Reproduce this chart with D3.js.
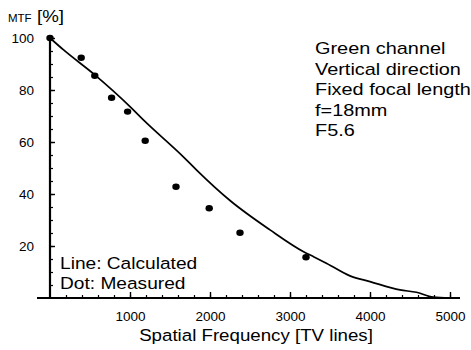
<!DOCTYPE html>
<html>
<head>
<meta charset="utf-8">
<script src="https://cdn.jsdelivr.net/npm/d3@7"></script>
<style>
  body { margin: 0; background: #fff; }
  svg { display: block; font-family: "Liberation Sans", Arial, sans-serif; }
  .axis path, .axis line { stroke: #000; }
  .axis text { fill: #000; }
</style>
</head>
<body>
<svg class="view" width="471" height="350"></svg>
<script>
// calculated MTF curve
var calcFreq = [0, 170, 560, 1000, 1167, 1667, 1833, 2250, 2750, 3170, 3300, 3460, 3750, 4000, 4375, 4580, 4790, 5000];
var calcMtf  = [100, 95.4, 85.8, 73.6, 68.5, 54.3, 49.2, 37.5, 26.2, 17.8, 15.8, 13.3, 8.5, 6.3, 3.1, 2.2, 0.3, 0];

// measured dots
var measFreq = [0, 390, 560, 770, 970, 1190, 1575, 1990, 2375, 3200];
var measMtf  = [100, 92.4, 85.5, 77, 71.7, 60.5, 42.8, 34.5, 25.1, 15.7];

var xMajor = [1000, 2000, 3000, 4000, 5000];
var yMajor = [20, 40, 60, 80, 100];

var notes = ['Green channel', 'Vertical direction', 'Fixed focal length', 'f=18mm', 'F5.6'];
var legendLines = ['Line: Calculated', 'Dot: Measured'];

var svg = d3.select('.view');

var x = d3.scaleLinear().domain([0, 5000]).range([50, 450]);
var y = d3.scaleLinear().domain([0, 100]).range([298, 38]);

// minor ticks
svg.append('g')
    .attr('class', 'axis')
    .attr('transform', 'translate(0,' + y(0) + ')')
    .call(d3.axisBottom(x).tickValues(d3.range(200, 5001, 200)).tickSizeInner(-3).tickSizeOuter(0).tickFormat(''))
    .call(function (g) { g.select('.domain').remove(); })
    .selectAll('line').attr('stroke-width', 1.2);

svg.append('g')
    .attr('class', 'axis')
    .attr('transform', 'translate(' + x(0) + ',0)')
    .call(d3.axisLeft(y).tickValues(d3.range(5, 101, 5)).tickSizeInner(-3).tickSizeOuter(0).tickFormat(''))
    .call(function (g) { g.select('.domain').remove(); })
    .selectAll('line').attr('stroke-width', 1.2);

// major ticks + labels
var xAxis = svg.append('g')
    .attr('class', 'axis')
    .attr('transform', 'translate(0,' + y(0) + ')')
    .call(d3.axisBottom(x).tickValues(xMajor).tickSizeInner(-6).tickSizeOuter(0).tickPadding(13).tickFormat(d3.format('d')))
    .call(function (g) { g.select('.domain').remove(); });
xAxis.selectAll('line').attr('stroke-width', 1.4);
xAxis.selectAll('text').attr('font-size', 13.5).attr('font-family', null);

var yAxis = svg.append('g')
    .attr('class', 'axis')
    .attr('transform', 'translate(' + x(0) + ',0)')
    .call(d3.axisLeft(y).tickValues(yMajor).tickSizeInner(-5).tickSizeOuter(0).tickPadding(16))
    .call(function (g) { g.select('.domain').remove(); });
yAxis.selectAll('line').attr('stroke-width', 1.4);
yAxis.selectAll('text').attr('font-size', 13.5).attr('font-family', null);

// axis lines
svg.append('line')
    .attr('x1', x(0) - 13).attr('x2', x(5000) + 10)
    .attr('y1', y(0)).attr('y2', y(0))
    .attr('stroke', '#000').attr('stroke-width', 2.2);
svg.append('line')
    .attr('x1', x(0)).attr('x2', x(0))
    .attr('y1', y(100) - 1).attr('y2', y(0))
    .attr('stroke', '#000').attr('stroke-width', 2.2);

// calculated line
var calc = calcFreq.map(function (f, i) { return [f, calcMtf[i]]; });
var line = d3.line()
    .x(function (d) { return x(d[0]); })
    .y(function (d) { return y(d[1]); })
    .curve(d3.curveMonotoneX);

svg.append('path')
    .datum(calc)
    .attr('d', line)
    .attr('fill', 'none')
    .attr('stroke', '#000')
    .attr('stroke-width', 1.7);

// measured dots
var meas = measFreq.map(function (f, i) { return [f, measMtf[i]]; });
svg.append('g').selectAll('ellipse')
    .data(meas)
    .enter().append('ellipse')
    .attr('cx', function (d) { return x(d[0]); })
    .attr('cy', function (d) { return y(d[1]); })
    .attr('rx', 3.7)
    .attr('ry', 3.2)
    .attr('fill', '#000');

// the source text is a little wider than the font, so stretch it sideways
function stretched(tx, ty, sx) {
    return 'translate(' + tx + ',' + ty + ') scale(' + sx + ',1)';
}

// titles
svg.append('text')
    .attr('transform', stretched(256, 341, 1.1))
    .attr('text-anchor', 'middle')
    .attr('font-size', 17)
    .text('Spatial Frequency [TV lines]');

svg.append('text')
    .attr('transform', stretched(8, 22, 1))
    .attr('font-size', 11.5)
    .text('MTF');
svg.append('text')
    .attr('transform', stretched(37, 22, 1.1))
    .attr('font-size', 17)
    .text('[%]');

// notes
svg.append('g').selectAll('text')
    .data(notes)
    .enter().append('text')
    .attr('transform', function (d, i) { return stretched(315, 54 + i * 20.5, 1.17); })
    .attr('font-size', 17)
    .text(function (d) { return d; });

svg.append('g').selectAll('text')
    .data(legendLines)
    .enter().append('text')
    .attr('transform', function (d, i) { return stretched(60, 269 + i * 20, 1.16); })
    .attr('font-size', 16.5)
    .text(function (d) { return d; });
</script>
</body>
</html>
